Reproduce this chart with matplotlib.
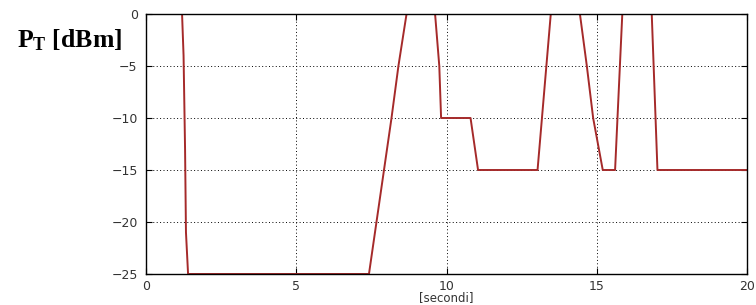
import numpy as np
import matplotlib
matplotlib.use("Agg")
import matplotlib.pyplot as plt

# time (s) and transmitted power (dBm)
t = [0, 1.2, 1.25, 1.3, 1.33, 1.4, 7.42, 7.92, 8.17, 8.4, 8.67,
     9.62, 9.76, 9.82, 10.8, 11.05, 13.03, 13.47, 14.44, 14.67, 14.88,
     15.2, 15.61, 15.85, 16.83, 17.02, 20]
pt = [0, 0, -4, -13, -21, -25, -25, -15, -10, -5, 0,
      0, -5, -10, -10, -15, -15, 0, 0, -5, -10,
      -15, -15, 0, 0, -15, -15]

xticks = [0, 5, 10, 15, 20]
yticks = [0, -5, -10, -15, -20, -25]

plt.rcParams['mathtext.fontset'] = 'custom'
plt.rcParams['mathtext.bf'] = 'Liberation Serif:bold'
plt.rcParams['mathtext.rm'] = 'Liberation Serif'

fig = plt.figure(figsize=(7.56, 3.05), dpi=100)
ax = fig.add_axes([146/756, 1-274/305, (747-146)/756, (274-14)/305])

ax.plot(t, pt, color="#a52a2a", lw=1.4)
ax.set_xlim(0, 20)
ax.set_ylim(-25, 0)
ax.set_xticks(xticks)
ax.set_yticks(yticks)
ax.grid(True, color="black", linestyle=(0, (1, 2.5)), lw=0.7)
ax.tick_params(direction="in", length=4, top=True, right=True,
               labelsize=9, labelcolor="#333333")
ax.tick_params(axis="y", pad=6)
ax.tick_params(axis="x", pad=4)
for s in ax.spines.values():
    s.set_linewidth(1.0)

ax.set_xlabel("[secondi]", fontsize=8.5, color="#333333", labelpad=-1)
fig.text(17/756, 1-47/305, r"$\mathbf{P_T}$ [dBm]", family="Liberation Serif",
         fontweight="bold", fontsize=18.5, va="baseline", ha="left")

fig.savefig("out.png", dpi=100)
